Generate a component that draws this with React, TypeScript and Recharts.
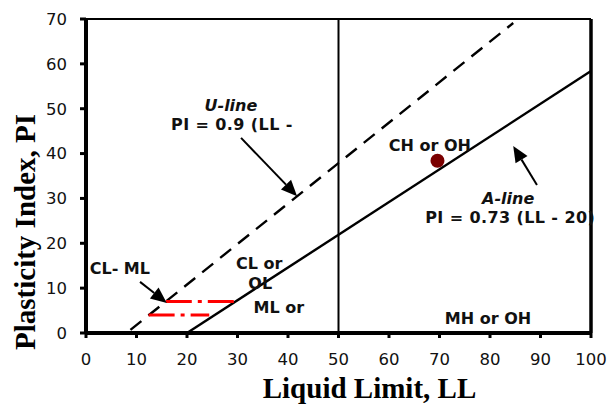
import React from 'react';
import {
  ComposedChart,
  Line,
  Scatter,
  XAxis,
  YAxis,
  ReferenceLine,
} from 'recharts';

// axis ticks
const llTicks = [0, 10, 20, 30, 40, 50, 60, 70, 80, 90, 100];
const piTicks = [0, 10, 20, 30, 40, 50, 60, 70];

// classification lines (LL, PI)
const uLine = [
  { ll: 8.8, pi: 0.7 },
  { ll: 84.6, pi: 69.1 },
];
const aLine = [
  { ll: 20, pi: 0 },
  { ll: 100, pi: 58.4 },
];
const clmlUpper = [
  { ll: 15.8, pi: 7 },
  { ll: 29.6, pi: 7 },
];
const clmlLower = [
  { ll: 12.4, pi: 4 },
  { ll: 24.4, pi: 4 },
];

// sample point
const samplePoint = [{ ll: 69.6, pi: 38.4 }];

// arrows: [from, to] in (LL, PI)
const uArrow = [
  { x: 30.7, y: 43.5 },
  { x: 41.8, y: 30.5 },
];
const aArrow = [
  { x: 89.3, y: 33 },
  { x: 84.6, y: 41.7 },
];
const clmlArrow = [
  { x: 10.7, y: 11.4 },
  { x: 16, y: 6.7 },
];

// zone / line labels
const zoneLabels = [
  { ll: 28.7, pi: 50.7, text: 'U-line', italic: true },
  { ll: 28.9, pi: 46.4, text: 'PI = 0.9 (LL -', italic: false },
  { ll: 68.1, pi: 41.7, text: 'CH or OH', italic: false },
  { ll: 83.6, pi: 29.9, text: 'A-line', italic: true },
  { ll: 84.0, pi: 25.7, text: 'PI = 0.73 (LL - 20)', italic: false },
  { ll: 6.7, pi: 14.3, text: 'CL- ML', italic: false },
  { ll: 34.3, pi: 15.4, text: 'CL or', italic: false },
  { ll: 34.5, pi: 11.1, text: 'OL', italic: false },
  { ll: 38.2, pi: 5.6, text: 'ML or', italic: false },
  { ll: 79.6, pi: 3.3, text: 'MH or OH', italic: false },
];

const labelFont = "Verdana, 'DejaVu Sans', sans-serif";
const titleFont = "'Times New Roman', 'Liberation Serif', serif";

const ArrowShape = (props: any) => {
  const { x1, y1, x2, y2 } = props;
  const ang = Math.atan2(y2 - y1, x2 - x1);
  const len = 16;
  const half = 7;
  const bx = x2 - len * Math.cos(ang);
  const by = y2 - len * Math.sin(ang);
  const p1 = `${bx + half * Math.sin(ang)},${by - half * Math.cos(ang)}`;
  const p2 = `${bx - half * Math.sin(ang)},${by + half * Math.cos(ang)}`;
  return (
    <g>
      <line x1={x1} y1={y1} x2={bx} y2={by} stroke="#000" strokeWidth={2} />
      <polygon points={`${x2},${y2} ${p1} ${p2}`} fill="#000" />
    </g>
  );
};

const ZoneLabel = (props: any) => {
  const { cx, cy, payload } = props;
  // the equation labels are set a little wider in the original
  const spacing = payload.text.startsWith('PI') ? 0.4 : 0;
  return (
    <text
      x={cx}
      y={cy}
      textAnchor="middle"
      dominantBaseline="central"
      fontFamily={labelFont}
      fontWeight="bold"
      fontStyle={payload.italic ? 'italic' : 'normal'}
      fontSize={16}
      letterSpacing={spacing}
      fill="#111"
    >
      {payload.text}
    </text>
  );
};

const App = () => {
  return (
    <div style={{ position: 'absolute', left: 0, top: 0 }}>
      <ComposedChart
        width={609}
        height={407}
        margin={{ top: 19, right: 18, left: 0, bottom: 0 }}
      >
        <XAxis
          type="number"
          dataKey="ll"
          domain={[0, 100]}
          ticks={llTicks}
          interval={0}
          height={74}
          axisLine={{ stroke: '#000', strokeWidth: 4 }}
          tickLine={{ stroke: '#000', strokeWidth: 3 }}
          tickSize={5}
          tickMargin={15}
          tick={{ fontSize: 16.5, fill: '#111', fontFamily: labelFont }}
          label={(p: any) => {
            const vb = p.viewBox;
            return (
              <text
                x={vb.x + vb.width / 2 + 31}
                y={vb.y + 65}
                textAnchor="middle"
                fontFamily={titleFont}
                fontWeight="bold"
                fontSize={29}
                fill="#000"
              >
                Liquid Limit, LL
              </text>
            );
          }}
        />
        <YAxis
          type="number"
          dataKey="pi"
          domain={[0, 70]}
          ticks={piTicks}
          interval={0}
          width={86}
          axisLine={{ stroke: '#000', strokeWidth: 4 }}
          tickLine={{ stroke: '#000', strokeWidth: 3 }}
          tickSize={6}
          tickMargin={13}
          tick={{ fontSize: 16.5, fill: '#111', fontFamily: labelFont }}
          label={(p: any) => {
            const vb = p.viewBox;
            const cx = 25;
            const cy = vb.y + vb.height / 2 + 56;
            return (
              <text
                x={cx}
                y={cy}
                transform={`rotate(-90 ${cx} ${cy})`}
                textAnchor="middle"
                dominantBaseline="central"
                fontFamily={titleFont}
                fontWeight="bold"
                fontSize={29}
                fill="#000"
              >
                Plasticity Index, PI
              </text>
            );
          }}
        />

        <ReferenceLine y={70} stroke="#000" strokeWidth={2} />
        <ReferenceLine x={50} stroke="#000" strokeWidth={2} />

        <Line
          data={uLine}
          dataKey="pi"
          stroke="#000"
          strokeWidth={2.4}
          strokeDasharray="14 9"
          dot={false}
          activeDot={false}
          isAnimationActive={false}
        />
        <Line
          data={aLine}
          dataKey="pi"
          stroke="#000"
          strokeWidth={2.4}
          dot={false}
          activeDot={false}
          isAnimationActive={false}
        />
        <Line
          data={clmlUpper}
          dataKey="pi"
          stroke="#ff0000"
          strokeWidth={3}
          strokeDasharray="26 6 4 6"
          dot={false}
          activeDot={false}
          isAnimationActive={false}
        />
        <Line
          data={clmlLower}
          dataKey="pi"
          stroke="#ff0000"
          strokeWidth={3}
          strokeDasharray="26 6 4 6"
          dot={false}
          activeDot={false}
          isAnimationActive={false}
        />

        <ReferenceLine segment={uArrow} shape={ArrowShape} />
        <ReferenceLine segment={aArrow} shape={ArrowShape} />
        <ReferenceLine segment={clmlArrow} shape={ArrowShape} />

        <Scatter
          data={zoneLabels}
          dataKey="pi"
          shape={ZoneLabel}
          isAnimationActive={false}
        />
        <Scatter
          data={samplePoint}
          dataKey="pi"
          fill="#7b0000"
          shape={(p: any) => <circle cx={p.cx} cy={p.cy} r={7} fill="#7b0000" />}
          isAnimationActive={false}
        />
        <ReferenceLine x={100} stroke="#000" strokeWidth={3.5} />
      </ComposedChart>
    </div>
  );
};

export default App;
